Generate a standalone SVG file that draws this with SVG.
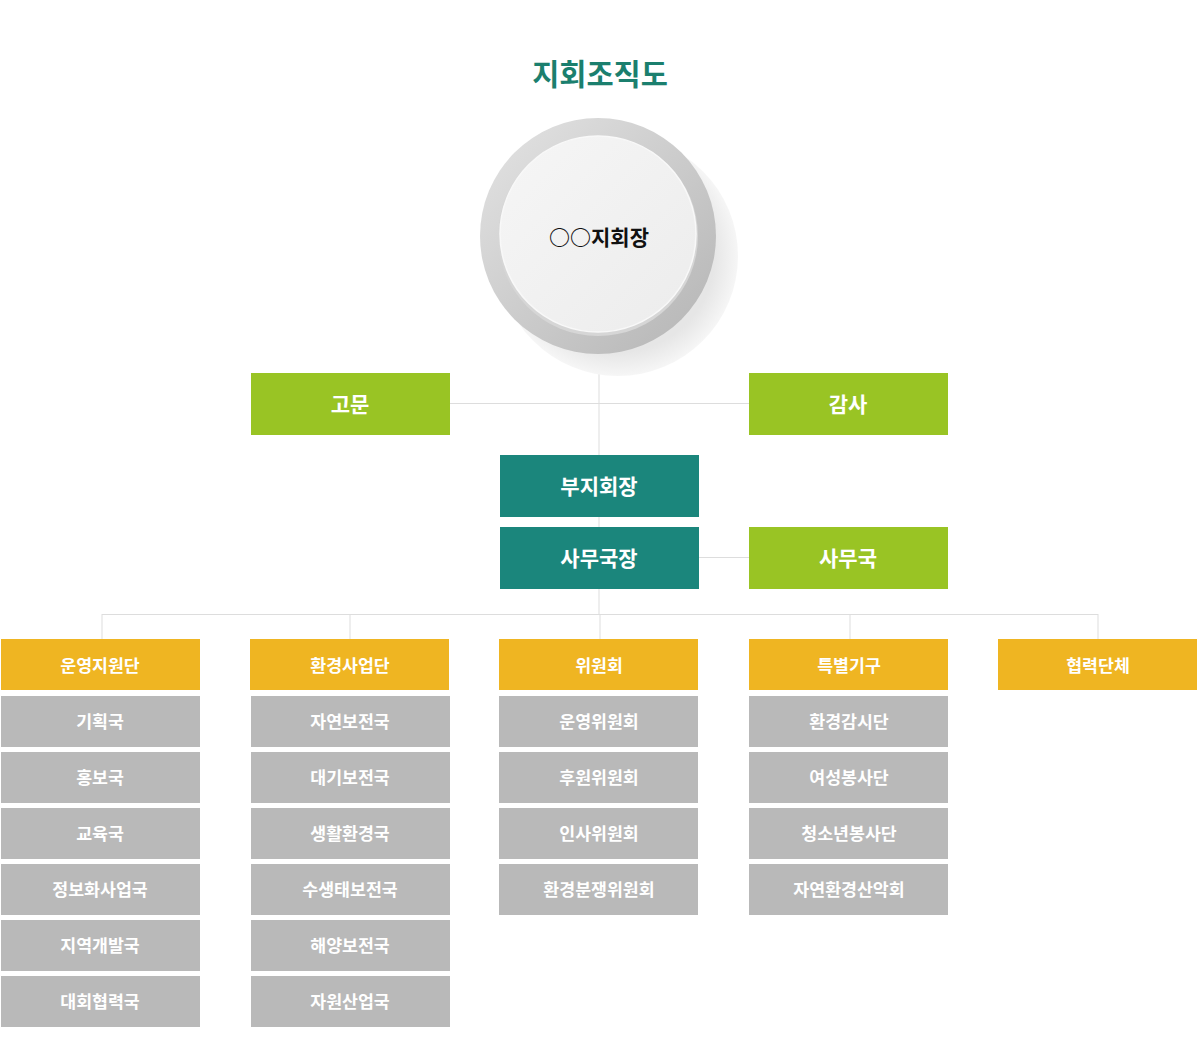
<svg xmlns="http://www.w3.org/2000/svg" width="1200" height="1050" viewBox="0 0 1200 1050">
<defs>
<style>
text{font-family:"Noto Sans CJK KR","Noto Sans",sans-serif;font-weight:700;text-anchor:middle;dominant-baseline:central}
.t{fill:#1b7f6e;font-size:29.5px}
.top{fill:#fff;font-size:21px}
.y{fill:#fff;font-size:17.3px}
.g{fill:#fff;font-size:17.3px}
.ln{stroke:#dddddd;stroke-width:1;fill:none}
.green{fill:#99c424}
.teal{fill:#1b867c}
.yel{fill:#efb522}
.gr{fill:#b9b9b9}
</style>
<radialGradient id="sh" cx="0.5" cy="0.5" r="0.5">
<stop offset="0.8" stop-color="#e6e6e6"/>
<stop offset="1" stop-color="#f6f6f6"/>
</radialGradient>
<linearGradient id="ring" x1="0" y1="0" x2="1" y2="1">
<stop offset="0" stop-color="#e4e4e4"/>
<stop offset="1" stop-color="#b4b4b4"/>
</linearGradient>
<linearGradient id="inner" x1="0" y1="0" x2="1" y2="1">
<stop offset="0" stop-color="#f6f6f6"/>
<stop offset="1" stop-color="#ececec"/>
</linearGradient>
</defs>
<rect width="1200" height="1050" fill="#fff"/>
<text class="t" x="600" y="72">지회조직도</text>

<g id="connectors">
<path class="ln" d="M599 350V614"/>
<path class="ln" d="M450 403.5H749"/>
<path class="ln" d="M699 557.5H749"/>
<path class="ln" d="M102 614.5H1098M102 614V639M350 614V639M600 614V639M850 614V639M1098 614V639"/>
</g>

<g id="chief">
<circle cx="618" cy="256" r="120" fill="url(#sh)"/>
<circle cx="598" cy="236" r="118" fill="url(#ring)"/>
<circle cx="598" cy="236" r="100" fill="#d6d6d6"/>
<circle cx="598" cy="234" r="98" fill="url(#inner)" stroke="#f8f8f8" stroke-width="1.5"/>
<text x="599" y="236" font-size="21" fill="#111">○○지회장</text>
</g>

<g id="advisor"><rect class="green" x="251" y="373" width="199" height="62"/><text class="top" x="350" y="403">고문</text></g>
<g id="audit"><rect class="green" x="749" y="373" width="199" height="62"/><text class="top" x="848" y="403">감사</text></g>
<g id="vice"><rect class="teal" x="500" y="455" width="199" height="62"/><text class="top" x="599" y="485">부지회장</text></g>
<g id="secgen"><rect class="teal" x="500" y="527" width="199" height="62"/><text class="top" x="599" y="557">사무국장</text></g>
<g id="office"><rect class="green" x="749" y="527" width="199" height="62"/><text class="top" x="848" y="557">사무국</text></g>

<g id="col1">
<rect class="yel" x="1" y="639" width="199" height="51"/><text class="y" x="100" y="664">운영지원단</text>
<rect class="gr" x="1" y="696" width="199" height="51"/><text class="g" x="100" y="720">기획국</text>
<rect class="gr" x="1" y="752" width="199" height="51"/><text class="g" x="100" y="776">홍보국</text>
<rect class="gr" x="1" y="808" width="199" height="51"/><text class="g" x="100" y="832">교육국</text>
<rect class="gr" x="1" y="864" width="199" height="51"/><text class="g" x="100" y="888">정보화사업국</text>
<rect class="gr" x="1" y="920" width="199" height="51"/><text class="g" x="100" y="944">지역개발국</text>
<rect class="gr" x="1" y="976" width="199" height="51"/><text class="g" x="100" y="1000">대회협력국</text>
</g>
<g id="col2">
<rect class="yel" x="250" y="639" width="199" height="51"/><text class="y" x="350" y="664">환경사업단</text>
<rect class="gr" x="251" y="696" width="199" height="51"/><text class="g" x="350" y="720">자연보전국</text>
<rect class="gr" x="251" y="752" width="199" height="51"/><text class="g" x="350" y="776">대기보전국</text>
<rect class="gr" x="251" y="808" width="199" height="51"/><text class="g" x="350" y="832">생활환경국</text>
<rect class="gr" x="251" y="864" width="199" height="51"/><text class="g" x="350" y="888">수생태보전국</text>
<rect class="gr" x="251" y="920" width="199" height="51"/><text class="g" x="350" y="944">해양보전국</text>
<rect class="gr" x="251" y="976" width="199" height="51"/><text class="g" x="350" y="1000">자원산업국</text>
</g>
<g id="col3">
<rect class="yel" x="499" y="639" width="199" height="51"/><text class="y" x="599" y="664">위원회</text>
<rect class="gr" x="499" y="696" width="199" height="51"/><text class="g" x="599" y="720">운영위원회</text>
<rect class="gr" x="499" y="752" width="199" height="51"/><text class="g" x="599" y="776">후원위원회</text>
<rect class="gr" x="499" y="808" width="199" height="51"/><text class="g" x="599" y="832">인사위원회</text>
<rect class="gr" x="499" y="864" width="199" height="51"/><text class="g" x="599" y="888">환경분쟁위원회</text>
</g>
<g id="col4">
<rect class="yel" x="749" y="639" width="199" height="51"/><text class="y" x="849" y="664">특별기구</text>
<rect class="gr" x="749" y="696" width="199" height="51"/><text class="g" x="849" y="720">환경감시단</text>
<rect class="gr" x="749" y="752" width="199" height="51"/><text class="g" x="849" y="776">여성봉사단</text>
<rect class="gr" x="749" y="808" width="199" height="51"/><text class="g" x="849" y="832">청소년봉사단</text>
<rect class="gr" x="749" y="864" width="199" height="51"/><text class="g" x="849" y="888">자연환경산악회</text>
</g>
<g id="col5">
<rect class="yel" x="998" y="639" width="199" height="51"/><text class="y" x="1098" y="664">협력단체</text>
</g>
</svg>
